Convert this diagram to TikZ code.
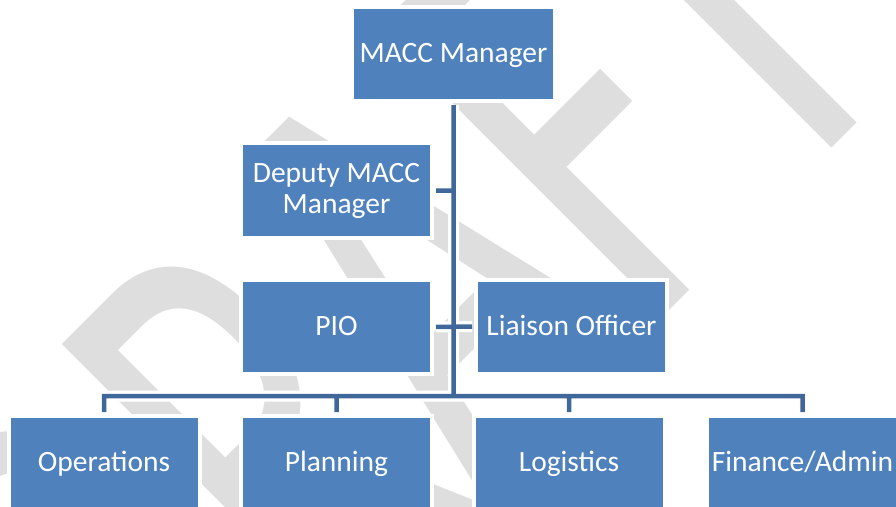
\documentclass[tikz,border=0pt]{standalone}
\usepackage{fontspec}
\setmainfont{Carlito}
\usetikzlibrary{calc}
\definecolor{boxblue}{RGB}{79,129,189}
\definecolor{wireblue}{RGB}{64,103,154}
\definecolor{markgray}{RGB}{222,222,222}
\tikzset{
  unit/.style={preaction={draw=white, line width=8pt}, fill=boxblue, text=white,
    minimum width=187pt, minimum height=90pt, inner sep=0pt, outer sep=6pt,
    font=\fontsize{29.5}{31}\selectfont, align=center},
  card/.style={unit, text height=23.6pt, text depth=5.9pt},
  halo/.style={draw=white, line width=11pt},
  wire/.style={draw=wireblue, line width=4.5pt},
}
\begin{document}
\begin{tikzpicture}[x=1pt,y=-1pt]
  \useasboundingbox (0,0) rectangle (896,506);
  \clip (0,0) rectangle (896,506);
  % watermark
  \node[text=markgray, rotate=45, yscale=1.58, anchor=base west, inner sep=0pt,
    font=\fontsize{400}{400}\selectfont] (mark) at (154,826) {DRAFT};

  \node[card, minimum width=199pt] (macc) at (453.5,54) {MACC Manager};
  \node[unit, minimum height=91pt] (deputy) at (336.5,190.5) {Deputy MACC\\Manager};
  \node[card] (pio) at (336.5,327) {PIO};
  \node[card] (liaison) at (571.5,326.5) {Liaison Officer};
  \node[card] (ops) at (104,463) {Operations};
  \node[card] (plan) at (336.5,463) {Planning};
  \node[card] (logi) at (569,463) {Logistics};
  \node[card] (fin) at (802.5,463) {Finance/Admin};

  \coordinate (hub) at (453.5,396);
  \foreach \look in {halo,wire}
    \draw[\look] (macc.south) -- (hub)
      (deputy.east) -- (deputy.east -| hub)
      (pio.east) -- (liaison.west)
      (ops.north) -- (ops.north |- hub) -- (fin.north |- hub) -- (fin.north)
      (plan.north) -- (plan.north |- hub)
      (logi.north) -- (logi.north |- hub);
\end{tikzpicture}
\end{document}
